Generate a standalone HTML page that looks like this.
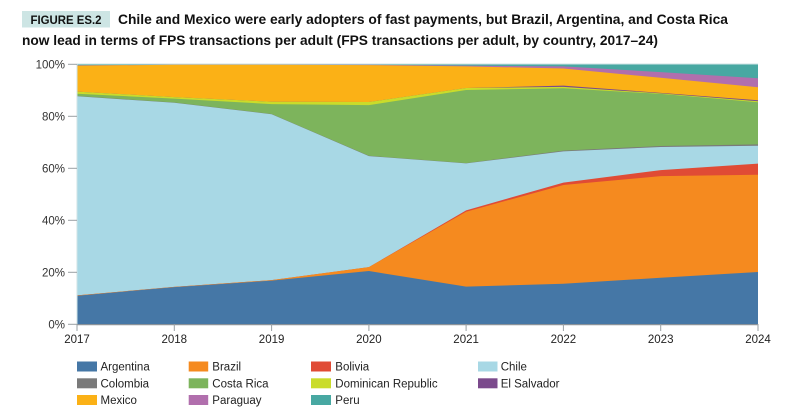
<!DOCTYPE html>
<html>
<head>
<meta charset="utf-8">
<style>
  html,body{margin:0;padding:0;background:#fff;}
  body{width:806px;height:420px;overflow:hidden;}
  svg{display:block;}
  text{font-family:"Liberation Sans",sans-serif;}
</style>
</head>
<body>
<svg width="806" height="420" viewBox="0 0 806 420" xmlns="http://www.w3.org/2000/svg">
  <!-- Title -->
  <rect x="22" y="11" width="88" height="16.5" fill="#cde5e4"/>
  <text x="30.5" y="24" font-size="12" font-weight="bold" fill="#111" textLength="71" lengthAdjust="spacingAndGlyphs">FIGURE ES.2</text>
  <text x="118" y="24" font-size="13.5" font-weight="bold" fill="#111" textLength="610" lengthAdjust="spacingAndGlyphs">Chile and Mexico were early adopters of fast payments, but Brazil, Argentina, and Costa Rica</text>
  <text x="22" y="45" font-size="13.5" font-weight="bold" fill="#111" textLength="636" lengthAdjust="spacingAndGlyphs">now lead in terms of FPS transactions per adult (FPS transactions per adult, by country, 2017–24)</text>

  <!-- Stacked areas (painted top series first, each down to baseline) -->
  <g stroke="none">
    <!-- Peru -->
    <polygon fill="#48a8a2" points="77,64.3 174.3,64.3 271.6,64.3 368.9,64.3 466.1,64.3 563.4,64.3 660.7,64.3 758,64.3 758,324.3 77,324.3"/>
    <!-- Paraguay -->
    <polygon fill="#b16fad" points="77,65.3 174.3,64.8 271.6,64.8 368.9,64.8 466.1,65.6 563.4,66.4 660.7,72.1 758,78.3 758,324.3 77,324.3"/>
    <!-- Mexico -->
    <polygon fill="#fbb116" points="77,65.6 174.3,64.8 271.6,64.8 368.9,65.1 466.1,66.4 563.4,68.5 660.7,77.8 758,87.2 758,324.3 77,324.3"/>
    <!-- El Salvador -->
    <polygon fill="#7b4a8c" points="77,91.6 174.3,97.1 271.6,101.7 368.9,102.0 466.1,88.0 563.4,85.6 660.7,92.9 758,100.2 758,324.3 77,324.3"/>
    <!-- Dominican Republic -->
    <polygon fill="#cadc2a" points="77,91.6 174.3,97.1 271.6,101.7 368.9,102.0 466.1,88.0 563.4,86.9 660.7,93.4 758,101.2 758,324.3 77,324.3"/>
    <!-- Costa Rica -->
    <polygon fill="#7db45c" points="77,93.7 174.3,98.6 271.6,104.1 368.9,105.1 466.1,90.0 563.4,88.2 660.7,93.9 758,102.3 758,324.3 77,324.3"/>
    <!-- Colombia -->
    <polygon fill="#7a7a7a" points="77,96.0 174.3,102.5 271.6,114.0 368.9,155.8 466.1,163.1 563.4,150.6 660.7,146.0 758,144.4 758,324.3 77,324.3"/>
    <!-- Chile -->
    <polygon fill="#a8d8e5" points="77,96.3 174.3,102.8 271.6,114.2 368.9,156.1 466.1,163.4 563.4,151.4 660.7,147.0 758,145.7 758,324.3 77,324.3"/>
    <!-- Bolivia -->
    <polygon fill="#e04b35" points="77,295.4 174.3,286.9 271.6,280.1 368.9,267.1 466.1,210.4 563.4,182.6 660.7,170.1 758,163.6 758,324.3 77,324.3"/>
    <!-- Brazil -->
    <polygon fill="#f58a1f" points="77,295.4 174.3,286.9 271.6,280.1 368.9,267.1 466.1,211.7 563.4,185.0 660.7,176.1 758,174.8 758,324.3 77,324.3"/>
    <!-- Argentina -->
    <polygon fill="#4577a6" points="77,295.7 174.3,287.1 271.6,280.6 368.9,271.0 466.1,286.6 563.4,283.7 660.7,277.8 758,272.0 758,324.3 77,324.3"/>
  </g>
  <line x1="77" y1="64" x2="758" y2="64" stroke="#cfe3e6" stroke-width="1"/>
  <line x1="77" y1="64" x2="77" y2="324" stroke="#cfe3e6" stroke-width="1"/>

  <!-- Y axis ticks and labels -->
  <g stroke="#9aa0a4" stroke-width="1">
    <line x1="68" y1="324.3" x2="77" y2="324.3"/>
    <line x1="68" y1="272.3" x2="77" y2="272.3"/>
    <line x1="68" y1="220.3" x2="77" y2="220.3"/>
    <line x1="68" y1="168.3" x2="77" y2="168.3"/>
    <line x1="68" y1="116.3" x2="77" y2="116.3"/>
    <line x1="68" y1="64.3" x2="77" y2="64.3"/>
  </g>
  <g font-size="11.5" fill="#333" text-anchor="end">
    <text x="65" y="328.5">0%</text>
    <text x="65" y="276.5">20%</text>
    <text x="65" y="224.5">40%</text>
    <text x="65" y="172.5">60%</text>
    <text x="65" y="120.5">80%</text>
    <text x="65" y="68.5">100%</text>
  </g>

  <!-- X axis -->
  <line x1="76.5" y1="324.6" x2="758.5" y2="324.6" stroke="#8a9299" stroke-width="1.3"/>
  <g stroke="#9aa0a4" stroke-width="1">
    <line x1="77" y1="324" x2="77" y2="331"/>
    <line x1="174.3" y1="324" x2="174.3" y2="331"/>
    <line x1="271.6" y1="324" x2="271.6" y2="331"/>
    <line x1="368.9" y1="324" x2="368.9" y2="331"/>
    <line x1="466.1" y1="324" x2="466.1" y2="331"/>
    <line x1="563.4" y1="324" x2="563.4" y2="331"/>
    <line x1="660.7" y1="324" x2="660.7" y2="331"/>
    <line x1="758" y1="324" x2="758" y2="331"/>
  </g>
  <g font-size="11.5" fill="#222" text-anchor="middle">
    <text x="77" y="343">2017</text>
    <text x="174.3" y="343">2018</text>
    <text x="271.6" y="343">2019</text>
    <text x="368.9" y="343">2020</text>
    <text x="466.1" y="343">2021</text>
    <text x="563.4" y="343">2022</text>
    <text x="660.7" y="343">2023</text>
    <text x="758" y="343">2024</text>
  </g>

  <!-- Legend -->
  <g>
    <rect x="77" y="361.5" width="20" height="10" fill="#4577a6"/>
    <rect x="188.7" y="361.5" width="19.5" height="10" fill="#f58a1f"/>
    <rect x="311" y="361.5" width="20" height="10" fill="#e04b35"/>
    <rect x="478" y="361.5" width="19.5" height="10" fill="#a8d8e5"/>

    <rect x="77" y="378.3" width="20" height="10" fill="#7a7a7a"/>
    <rect x="188.7" y="378.3" width="19.5" height="10" fill="#7db45c"/>
    <rect x="311" y="378.3" width="20" height="10" fill="#cadc2a"/>
    <rect x="478" y="378.3" width="19.5" height="10" fill="#7b4a8c"/>

    <rect x="77" y="395" width="20" height="10" fill="#fbb116"/>
    <rect x="188.7" y="395" width="19.5" height="10" fill="#b16fad"/>
    <rect x="311" y="395" width="20" height="10" fill="#48a8a2"/>
  </g>
  <g font-size="11.5" fill="#222">
    <text x="100.5" y="370.5">Argentina</text>
    <text x="212.3" y="370.5">Brazil</text>
    <text x="335.3" y="370.5">Bolivia</text>
    <text x="500.7" y="370.5">Chile</text>

    <text x="100.5" y="387.5">Colombia</text>
    <text x="212.3" y="387.5">Costa Rica</text>
    <text x="335.3" y="387.5">Dominican Republic</text>
    <text x="500.7" y="387.5">El Salvador</text>

    <text x="100.5" y="404">Mexico</text>
    <text x="212.3" y="404">Paraguay</text>
    <text x="335.3" y="404">Peru</text>
  </g>
</svg>
</body>
</html>
